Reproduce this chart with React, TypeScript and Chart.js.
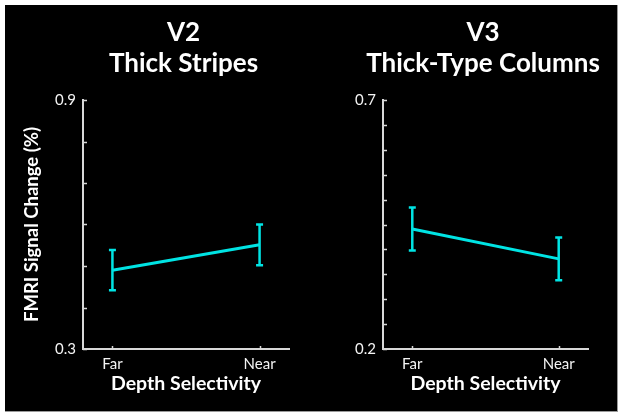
import React, { useEffect, useRef } from 'react';
import { Chart, registerables } from 'chart.js';

Chart.register(...registerables);

// ---- data ----
const categories = ['Far', 'Near'];
const v2Means = [0.49, 0.551];
const v2Errors = [0.0485, 0.049];
const v3Means = [0.441, 0.381];
const v3Errors = [0.043, 0.043];
const v2Title = ['V2', 'Thick Stripes'];
const v3Title = ['V3', 'Thick-Type Columns'];
const v2YRange = [0.3, 0.9];
const v2YStep = 0.1;
const v3YRange = [0.2, 0.7];
const v3YStep = 0.05;
const yAxisLabel = 'FMRI Signal Change (%)';
const xAxisLabel = 'Depth Selectivity';

const CYAN = 'rgb(0,228,228)';
const AXIS = '#d8d8d8';
const TEXT = '#f4f4f4';
const FONT = 'Lato';

const errorBarPlugin = {
  id: 'errorBars',
  afterDatasetsDraw(chart: any, _args: any, opts: any) {
    const { ctx, scales } = chart;
    const x = scales.x;
    const y = scales.y;
    const errs: number[] = opts.errors || [];
    const data = chart.data.datasets[0].data;
    ctx.save();
    ctx.strokeStyle = CYAN;
    ctx.lineWidth = 2.5;
    data.forEach((p: any, i: number) => {
      const px = x.getPixelForValue(p.x);
      const top = y.getPixelForValue(p.y + errs[i]);
      const bot = y.getPixelForValue(p.y - errs[i]);
      ctx.beginPath();
      ctx.moveTo(px, top);
      ctx.lineTo(px, bot);
      ctx.moveTo(px - 3.5, top);
      ctx.lineTo(px + 3.5, top);
      ctx.moveTo(px - 3.5, bot);
      ctx.lineTo(px + 3.5, bot);
      ctx.stroke();
    });
    ctx.restore();
  },
};

const innerTicksPlugin = {
  id: 'innerTicks',
  afterDraw(chart: any) {
    const { ctx, scales, chartArea } = chart;
    const x = scales.x;
    const y = scales.y;
    ctx.save();
    ctx.strokeStyle = AXIS;
    ctx.lineWidth = 1.5;
    ctx.beginPath();
    y.ticks.forEach((t: any) => {
      const py = Math.round(y.getPixelForValue(t.value)) + 0.5;
      ctx.moveTo(chartArea.left, py);
      ctx.lineTo(chartArea.left + 4, py);
    });
    x.ticks.forEach((t: any) => {
      const px = Math.round(x.getPixelForValue(t.value)) + 0.5;
      ctx.moveTo(px, chartArea.bottom);
      ctx.lineTo(px, chartArea.bottom - 3);
    });
    ctx.stroke();
    ctx.restore();
  },
};

// Two-line panel heading, centred over the plot area (may be wider than it).
const panelTitlePlugin = {
  id: 'panelTitle',
  afterDraw(chart: any, _args: any, opts: any) {
    const { ctx, chartArea } = chart;
    const lines: string[] = opts.lines || [];
    ctx.save();
    ctx.fillStyle = '#ffffff';
    ctx.font = `bold 26px ${FONT}`;
    ctx.textAlign = 'center';
    ctx.textBaseline = 'middle';
    const cx = (chartArea.left + chartArea.right) / 2 - 2.5;
    lines.forEach((line, i) => ctx.fillText(line, cx, 28 + i * 31));
    ctx.restore();
  },
};

type PanelProps = {
  title: string[];
  means: number[];
  errors: number[];
  yRange: number[];
  yStep: number;
  showYTitle: boolean;
  yWidth: number;
  rightPad: number;
};

function Panel(props: PanelProps) {
  const ref = useRef<HTMLCanvasElement>(null);
  useEffect(() => {
    if (!ref.current) return;
    const chart = new Chart(ref.current, {
      type: 'line',
      data: {
        datasets: [
          {
            data: props.means.map((m, i) => ({ x: i, y: m })),
            borderColor: CYAN,
            backgroundColor: CYAN,
            borderWidth: 3,
            pointRadius: 0,
            tension: 0,
          },
        ],
      },
      options: {
        animation: false,
        responsive: false,
        devicePixelRatio: 1,
        layout: { padding: { left: 0, right: props.rightPad, top: 95, bottom: 0 } },
        plugins: {
          legend: { display: false },
          tooltip: { enabled: false },
          title: { display: false },
          panelTitle: { lines: props.title },
          errorBars: { errors: props.errors },
        } as any,
        scales: {
          x: {
            type: 'linear',
            min: -0.2,
            max: 1.2,
            afterBuildTicks: (scale: any) => {
              scale.ticks = categories.map((_, i) => ({ value: i }));
            },
            afterFit: (scale: any) => {
              scale.height = 62;
            },
            grid: { display: false, drawTicks: false },
            border: { display: true, color: AXIS, width: 2 },
            ticks: {
              color: TEXT,
              font: { family: FONT, size: 15 },
              padding: 6,
              autoSkip: false,
              maxRotation: 0,
              callback: (v: any) => categories[Math.round(Number(v))] ?? '',
            },
            title: {
              display: true,
              text: xAxisLabel,
              color: '#ffffff',
              font: { family: FONT, size: 19.5, weight: 'bold', lineHeight: 1.2 },
              padding: { top: 0, bottom: 15.3 },
            },
          },
          y: {
            type: 'linear',
            min: props.yRange[0],
            max: props.yRange[1],
            afterFit: (scale: any) => {
              scale.width = props.yWidth;
            },
            grid: { display: false, drawTicks: false },
            border: { display: true, color: AXIS, width: 2 },
            ticks: {
              stepSize: props.yStep,
              color: TEXT,
              font: { family: FONT, size: 15 },
              padding: 7,
              autoSkip: false,
              callback: (v: any, i: number, ticks: any[]) =>
                i === 0 || i === ticks.length - 1 ? Number(v).toFixed(1) : '',
            },
            title: {
              display: props.showYTitle,
              text: yAxisLabel,
              color: '#ffffff',
              font: { family: FONT, size: 18.5, weight: 'bold', lineHeight: 1.2 },
              padding: { top: 15.9, bottom: 0 },
            },
          },
        },
      } as any,
      plugins: [errorBarPlugin as any, innerTicksPlugin as any, panelTitlePlugin as any],
    });
    return () => chart.destroy();
  }, []);
  return <canvas ref={ref} width={306} height={406} style={{ width: 306, height: 406, display: 'block' }} />;
}

export default function App() {
  useEffect(() => {
    document.body.style.margin = '0';
  }, []);
  return (
    <div style={{ position: 'relative', width: 624, height: 417, background: '#ffffff', overflow: 'hidden' }}>
      <div
        style={{
          position: 'absolute',
          left: 5,
          top: 5,
          width: 613,
          height: 407,
          background: '#000',
          borderRight: '1px solid #9a9a9a',
          borderBottom: '1px solid #9a9a9a',
          boxSizing: 'border-box',
        }}
      />
      <div style={{ position: 'absolute', left: 5, top: 5 }}>
        <Panel
          title={v2Title}
          means={v2Means}
          errors={v2Errors}
          yRange={v2YRange}
          yStep={v2YStep}
          showYTitle={true}
          yWidth={78}
          rightPad={22}
        />
      </div>
      <div style={{ position: 'absolute', left: 311, top: 5 }}>
        <Panel
          title={v3Title}
          means={v3Means}
          errors={v3Errors}
          yRange={v3YRange}
          yStep={v3YStep}
          showYTitle={false}
          yWidth={72}
          rightPad={29}
        />
      </div>
    </div>
  );
}
